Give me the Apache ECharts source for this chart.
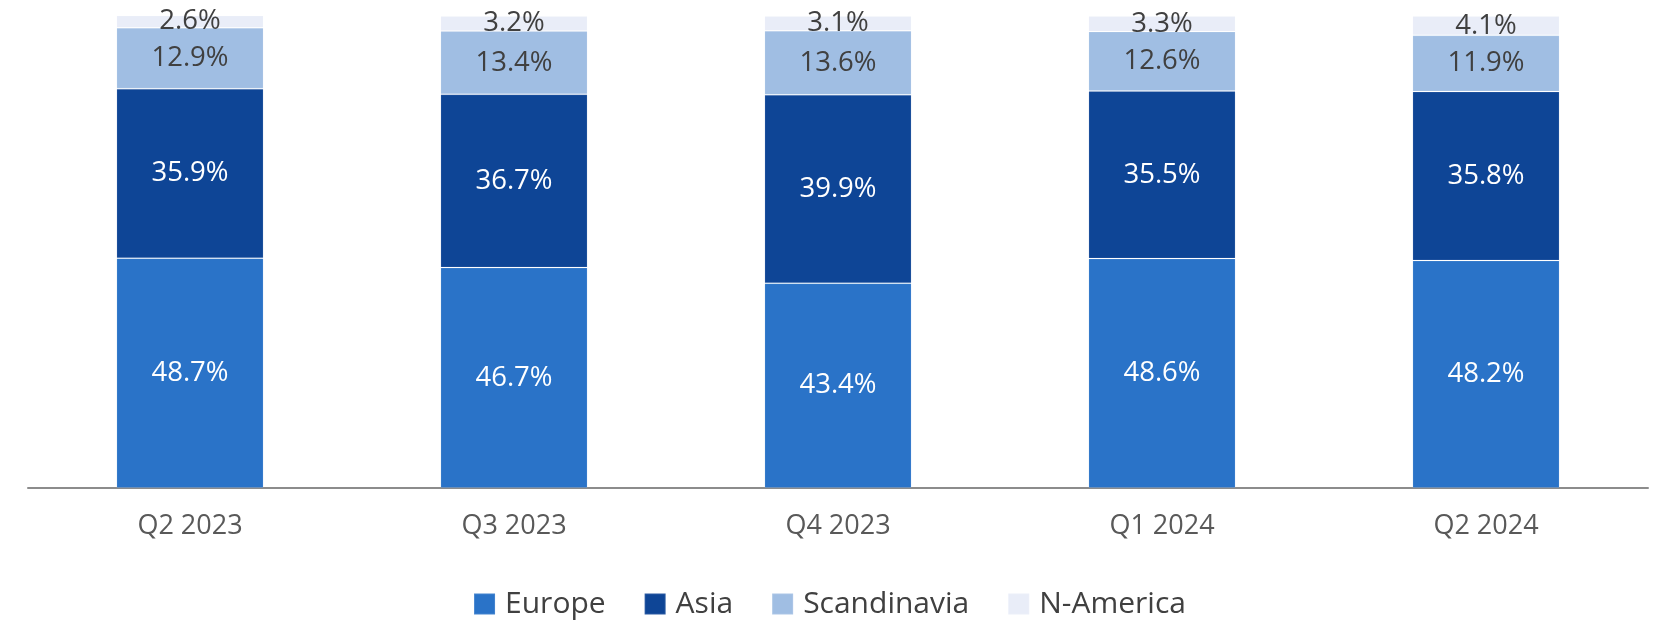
<!DOCTYPE html>
<html>
<head>
<meta charset="utf-8">
<script src="https://cdn.jsdelivr.net/npm/echarts@6/dist/echarts.min.js"></script>
<style>
  html, body { margin: 0; padding: 0; background: #fff; }
  #show { width: 1659px; height: 622px; }
</style>
</head>
<body>
<div id="show"></div>
<script>
var quarters = ['Q2 2023', 'Q3 2023', 'Q4 2023', 'Q1 2024', 'Q2 2024'];
var europe = [48.7, 46.7, 43.4, 48.6, 48.2];
var asia = [35.9, 36.7, 39.9, 35.5, 35.8];
var scandinavia = [12.9, 13.4, 13.6, 12.6, 11.9];
var nAmerica = [2.6, 3.2, 3.1, 3.3, 4.1];

var font = '"Open Sans", "DejaVu Sans", sans-serif';

function seg(name, data, color, labelColor) {
    return {
        name: name,
        type: 'bar',
        stack: 'total',
        barWidth: '45.4%',
        data: data,
        itemStyle: {
            color: color,
            borderColor: 'rgba(255,255,255,0.12)',
            borderWidth: 1
        },
        label: {
            show: true,
            position: 'inside',
            formatter: function (p) { return p.value.toFixed(1) + '%'; },
            color: labelColor,
            fontFamily: font,
            fontSize: 27.5
        },
        emphasis: { disabled: true }
    };
}

var myChart = echarts.init(document.getElementById('show'));
var option = {
    animation: false,
    grid: { left: 28, right: 11, top: 16, bottom: 134 },
    legend: {
        data: ['Europe', 'Asia', 'Scandinavia', 'N-America'],
        left: 'center',
        top: 584,
        icon: 'rect',
        itemWidth: 21,
        itemHeight: 21,
        itemGap: 38,
        textStyle: { fontFamily: font, fontSize: 30, color: '#404040', padding: [0, 0, 0, 5] }
    },
    xAxis: {
        type: 'category',
        data: quarters,
        axisLine: { lineStyle: { color: '#8c8c8c', width: 2 } },
        axisTick: { show: false },
        axisLabel: { color: '#595959', fontFamily: font, fontSize: 27, margin: 25 }
    },
    yAxis: {
        type: 'value',
        min: 0,
        max: 100,
        show: false
    },
    series: [
        seg('Europe', europe, '#2a73c8', '#ffffff'),
        seg('Asia', asia, '#0e4596', '#ffffff'),
        seg('Scandinavia', scandinavia, '#a0bee3', '#404040'),
        seg('N-America', nAmerica, '#e9edf8', '#404040')
    ]
};
myChart.setOption(option);
</script>
</body>
</html>
